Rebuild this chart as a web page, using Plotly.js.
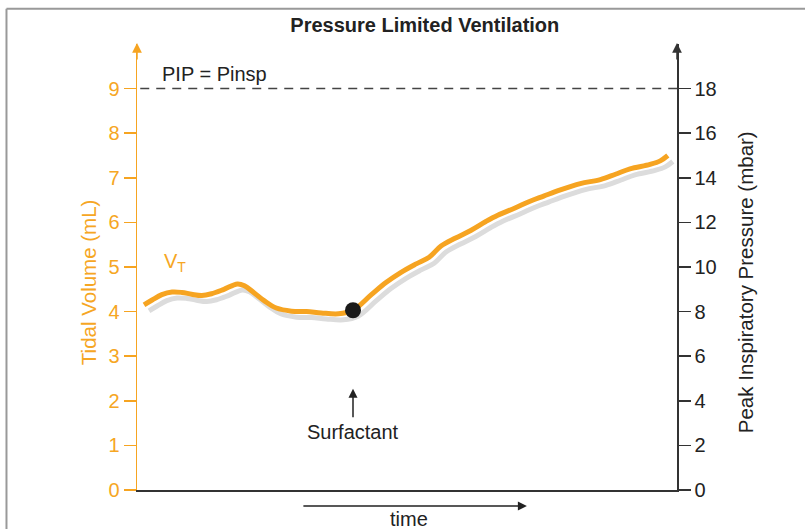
<!DOCTYPE html>
<html>
<head>
<meta charset="utf-8">
<script src="https://cdn.plot.ly/plotly-3.0.1.min.js"></script>
<style>html,body{margin:0;padding:0;background:#fff;}#chart{width:805px;height:529px;}</style>
</head>
<body>
<div id="chart"></div>
<script>
// time (arbitrary units) and tidal volume (mL)
const time = [1.3, 2.8, 4.6, 6.5, 8.3, 10.1, 12.0, 13.8, 16.1, 18.6, 19.9, 21.6, 23.6, 25.8, 28.6, 31.4, 34.1, 37.3, 40.0,
  43.4, 46.1, 48.9, 51.7, 54.1, 56.3, 59.0, 61.8, 64.6, 66.8, 70.1, 72.9, 75.3, 78.4, 82.1, 85.8, 88.6, 91.3, 95.0, 96.9, 98.3];
const tidalVolume = [4.15, 4.26, 4.38, 4.44, 4.43, 4.39, 4.36, 4.40, 4.50, 4.62, 4.58, 4.43, 4.24, 4.08, 4.01, 4.00, 3.97, 3.95, 4.03,
  4.38, 4.65, 4.88, 5.07, 5.22, 5.47, 5.65, 5.82, 6.02, 6.16, 6.33, 6.48, 6.59, 6.73, 6.87, 6.96, 7.08, 7.20, 7.30, 7.38, 7.50];
const surfactantTime = 40.0;
const surfactantVolume = 4.03;
const pipLimit = 9;           // mL-axis level of the PIP = Pinsp dashed line
const leftTicks = [0, 1, 2, 3, 4, 5, 6, 7, 8, 9];
const rightTicks = [0, 2, 4, 6, 8, 10, 12, 14, 16, 18];

const ORANGE = '#F6A421';
const ORANGE_TXT = '#F6A623';
const DARK = '#333333';
const FONT = 'Liberation Sans, Arial, Helvetica, sans-serif';

// shadow drawn through overlay axes shifted by a few pixels
const xr = [0, 100], yr = [0, 10];
const plotW = 540, plotH = 446;
const dxPx = 5, dyPx = 6;
const dx = dxPx * (xr[1] - xr[0]) / plotW;
const dy = dyPx * (yr[1] - yr[0]) / plotH;

const traces = [
  {x: [0], y: [0], xaxis: 'x', yaxis: 'y2', mode: 'markers', marker: {opacity: 0}, hoverinfo: 'skip'},
  {x: time, y: tidalVolume, xaxis: 'x2', yaxis: 'y3', mode: 'lines', line: {color: '#DCDCDC', width: 5, shape: 'spline', smoothing: 1}, hoverinfo: 'skip'},
  {x: time, y: tidalVolume, xaxis: 'x3', yaxis: 'y4', mode: 'lines', line: {color: ORANGE, width: 5, shape: 'spline', smoothing: 1}},
  {x: [surfactantTime], y: [surfactantVolume], xaxis: 'x3', yaxis: 'y4', mode: 'markers', marker: {color: '#1a1a1a', size: 16, line: {width: 0}}}
];

const layout = {
  width: 805, height: 529,
  margin: {l: 137, r: 128, t: 44, b: 39},
  paper_bgcolor: '#fff', plot_bgcolor: 'rgba(0,0,0,0)',
  showlegend: false,
  font: {family: FONT, color: DARK, size: 20},
  title: {text: '<b>Pressure Limited Ventilation</b>', font: {family: FONT, size: 20, color: '#222'},
    xref: 'paper', x: 0.533, xanchor: 'center', yref: 'container', y: 0.953, yanchor: 'middle'},
  xaxis: {range: xr, showgrid: false, zeroline: false, showticklabels: false, ticks: '',
    showline: true, linecolor: DARK, linewidth: 1.5, fixedrange: true},
  xaxis2: {range: [xr[0] - dx, xr[1] - dx], overlaying: 'x', visible: false, fixedrange: true},
  xaxis3: {range: xr, overlaying: 'x', visible: false, fixedrange: true},
  yaxis: {range: yr, tickvals: leftTicks, ticks: 'outside', ticklen: 12, tickcolor: ORANGE, tickwidth: 1.5,
    showline: true, linecolor: ORANGE, linewidth: 1.5, showgrid: false, zeroline: false,
    tickfont: {family: FONT, size: 20, color: ORANGE_TXT}, fixedrange: true},
  yaxis2: {range: [0, 20], overlaying: 'y', side: 'right', anchor: 'x', tickvals: rightTicks, ticks: 'outside', ticklen: 12,
    tickcolor: DARK, tickwidth: 1.5, showline: true, linecolor: DARK, linewidth: 1.5, showgrid: false, zeroline: false,
    tickfont: {family: FONT, size: 20, color: '#222'}, fixedrange: true},
  yaxis3: {range: [yr[0] + dy, yr[1] + dy], overlaying: 'y', visible: false, fixedrange: true},
  yaxis4: {range: yr, overlaying: 'y', visible: false, fixedrange: true},
  shapes: [
    {type: 'line', xref: 'x', yref: 'y', x0: 0.6, x1: xr[1], y0: pipLimit, y1: pipLimit,
      line: {color: '#444', width: 1.5, dash: '9px,7px'}},
    {type: 'line', xref: 'paper', yref: 'paper', x0: -0.2417, x1: 1.3, y0: 1.0789, y1: 1.0789, line: {color: '#999', width: 2}},
    {type: 'line', xref: 'paper', yref: 'paper', x0: -0.2417, x1: -0.2417, y0: 1.0789, y1: -0.1, line: {color: '#999', width: 2}}
  ],
  annotations: [
    {xref: 'paper', yref: 'paper', x: -0.0907, y: 0.466, xanchor: 'center', yanchor: 'middle', textangle: -90,
      text: 'Tidal Volume (mL)', showarrow: false, font: {size: 20.5, color: ORANGE_TXT}},
    {xref: 'paper', yref: 'paper', x: 1.126, y: 0.466, xanchor: 'center', yanchor: 'middle', textangle: -90,
      text: 'Peak Inspiratory Pressure (mbar)', showarrow: false, font: {size: 20.5, color: '#222'}},
    {xref: 'paper', yref: 'paper', x: 0, y: 1.002, ax: 0, ay: 18, text: '', showarrow: true, arrowhead: 2, arrowsize: 1.3, arrowwidth: 1.5, arrowcolor: ORANGE},
    {xref: 'paper', yref: 'paper', x: 1, y: 1.002, ax: 0, ay: 18, text: '', showarrow: true, arrowhead: 2, arrowsize: 1.3, arrowwidth: 1.5, arrowcolor: DARK},
    {xref: 'x', yref: 'y', x: 4.3, y: pipLimit, yshift: 15, xanchor: 'left', yanchor: 'middle', text: 'PIP = Pinsp', showarrow: false, font: {size: 20, color: '#222'}},
    {xref: 'x', yref: 'y', x: 4.6, y: 5.1, xanchor: 'left', yanchor: 'middle', text: 'V<sub>T</sub>', showarrow: false, font: {size: 20, color: ORANGE_TXT}},
    {xref: 'x', yref: 'y', x: surfactantTime, y: 2.27, ax: 0, ay: 30, text: '', showarrow: true, arrowhead: 2, arrowsize: 1.2, arrowwidth: 1.5, arrowcolor: '#222'},
    {xref: 'x', yref: 'y', x: surfactantTime, y: 1.3, xanchor: 'center', yanchor: 'middle', text: 'Surfactant', showarrow: false, font: {size: 20, color: '#222'}},
    {xref: 'x', yref: 'paper', x: 72.2, y: -0.036, ax: -225, ay: 0, text: '', showarrow: true, arrowhead: 2, arrowsize: 1.2, arrowwidth: 1.5, arrowcolor: '#222'},
    {xref: 'x', yref: 'paper', x: 50.4, y: -0.066, xanchor: 'center', yanchor: 'middle', text: 'time', showarrow: false, font: {size: 20, color: '#222'}}
  ]
};

Plotly.newPlot('chart', traces, layout, {staticPlot: true, displayModeBar: false});
</script>
</body>
</html>
